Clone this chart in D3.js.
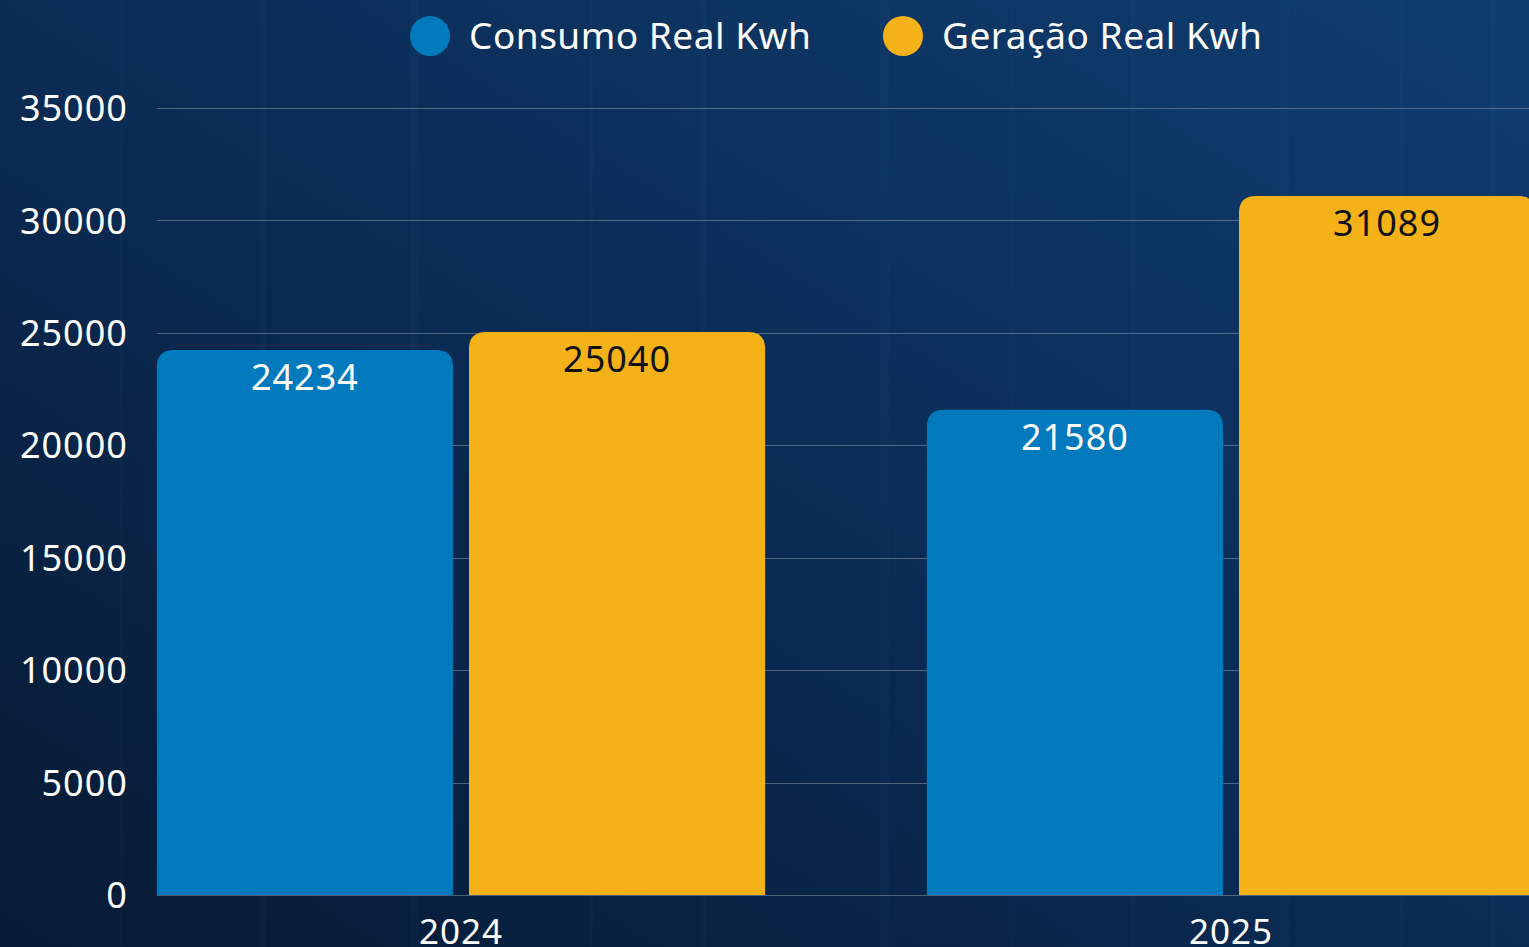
<!DOCTYPE html>
<html>
<head>
<meta charset="utf-8">
<script src="https://cdn.jsdelivr.net/npm/d3@7"></script>
<style>
  html, body { margin: 0; padding: 0; background: #082245; overflow: hidden; }
  svg { display: block; font-family: "Noto Sans", "Open Sans", sans-serif; }
</style>
</head>
<body>
<svg id="chart" width="1529" height="947"></svg>
<script>
// data
var years = ["2024", "2025"];
var seriesNames = ["Consumo Real Kwh", "Geração Real Kwh"];
var consumo = [24234, 21580];
var geracao = [25040, 31089];
var yTicks = [0, 5000, 10000, 15000, 20000, 25000, 30000, 35000];

var colors = ["#0079bd", "#f5b118"];
var labelColors = ["#ffffff", "#111111"];
var fontFam = '"Noto Sans", "Open Sans", sans-serif';

var W = 1529, H = 947;
var svg = d3.select("#chart");

// background
var defs = svg.append("defs");
var bg = defs.append("linearGradient").attr("id", "bg")
    .attr("x1", "0").attr("y1", "1").attr("x2", "1").attr("y2", "0");
bg.append("stop").attr("offset", "0%").attr("stop-color", "#061a33");
bg.append("stop").attr("offset", "45%").attr("stop-color", "#0a2a52");
bg.append("stop").attr("offset", "100%").attr("stop-color", "#0f3d70");
svg.append("rect").attr("width", W).attr("height", H).attr("fill", "url(#bg)");

// faint texture lines
var tex = svg.append("g").attr("opacity", 0.025);
[120, 260, 410, 590, 700, 880, 1010, 1130, 1280, 1400, 1490].forEach(function(x, i) {
  tex.append("rect").attr("x", x).attr("y", 0).attr("width", 3 + (i % 3) * 3).attr("height", H).attr("fill", "#6fa8e0");
});

// scales
var x0 = d3.scaleBand().domain(years).range([76, 1616]).paddingInner(0.21).paddingOuter(0.105);
var x1 = d3.scaleBand().domain(seriesNames).range([0, x0.bandwidth()]).paddingInner(0.0513);
var y = d3.scaleLinear().domain([0, 35000]).range([895, 108]);

var plotLeft = x0(years[0]);

// gridlines
svg.append("g").selectAll("line")
    .data(yTicks)
  .enter().append("line")
    .attr("x1", plotLeft)
    .attr("x2", W)
    .attr("y1", function(d) { return Math.round(y(d)) + 0.5; })
    .attr("y2", function(d) { return Math.round(y(d)) + 0.5; })
    .attr("stroke", "rgba(255,255,255,0.28)")
    .attr("stroke-width", 1);

// y axis labels
svg.append("g")
    .attr("transform", "translate(" + (plotLeft - 29) + ",0)")
    .call(d3.axisLeft(y).tickValues(yTicks).tickSize(0).tickPadding(0).tickFormat(d3.format("d")))
    .attr("font-family", fontFam)
    .call(function(g) { g.select(".domain").remove(); })
    .selectAll("text")
    .attr("fill", "#ffffff")
    .attr("font-size", 36)
    .attr("letter-spacing", 1)
    .attr("dy", "0.35em");

// x axis labels
svg.append("g")
    .attr("transform", "translate(0,895)")
    .call(d3.axisBottom(x0).tickSize(0).tickPadding(0))
    .attr("font-family", fontFam)
    .call(function(g) { g.select(".domain").remove(); })
    .selectAll("text")
    .attr("fill", "#ffffff")
    .attr("font-size", 35)
    .attr("letter-spacing", 1)
    .attr("dy", "1.4em");

function roundTop(x, yTop, w, h, r) {
  r = Math.min(r, h, w / 2);
  return "M" + x + "," + (yTop + h) +
    "V" + (yTop + r) +
    "Q" + x + "," + yTop + " " + (x + r) + "," + yTop +
    "H" + (x + w - r) +
    "Q" + (x + w) + "," + yTop + " " + (x + w) + "," + (yTop + r) +
    "V" + (yTop + h) + "Z";
}

var rows = years.map(function(yr, i) {
  return { year: yr, values: [consumo[i], geracao[i]] };
});

var groups = svg.selectAll(".grp")
    .data(rows)
  .enter().append("g")
    .attr("class", "grp")
    .attr("transform", function(d) { return "translate(" + x0(d.year) + ",0)"; });

groups.selectAll("path")
    .data(function(d) { return d.values.map(function(v, j) { return { s: seriesNames[j], v: v, j: j }; }); })
  .enter().append("path")
    .attr("d", function(d) {
      return roundTop(x1(d.s), y(d.v), x1.bandwidth(), y(0) - y(d.v), 17);
    })
    .attr("fill", function(d) { return colors[d.j]; });

groups.selectAll("text.val")
    .data(function(d) { return d.values.map(function(v, j) { return { s: seriesNames[j], v: v, j: j }; }); })
  .enter().append("text")
    .attr("class", "val")
    .attr("x", function(d) { return x1(d.s) + x1.bandwidth() / 2; })
    .attr("y", function(d) { return y(d.v) + 40; })
    .attr("text-anchor", "middle")
    .attr("font-size", 36)
    .attr("letter-spacing", 1)
    .attr("fill", function(d) { return labelColors[d.j]; })
    .text(function(d) { return d.v; });

// legend
var legendX = [430, 903];
var legend = svg.selectAll(".legend")
    .data(seriesNames)
  .enter().append("g")
    .attr("class", "legend")
    .attr("transform", function(d, i) { return "translate(" + legendX[i] + ",36)"; });

legend.append("ellipse")
    .attr("rx", 20).attr("ry", 20)
    .attr("fill", function(d, i) { return colors[i]; });

legend.append("text")
    .attr("x", 39)
    .attr("dy", "0.35em")
    .attr("font-size", 37)
    .attr("letter-spacing", 0.5)
    .attr("fill", "#ffffff")
    .text(function(d) { return d; });
</script>
</body>
</html>
